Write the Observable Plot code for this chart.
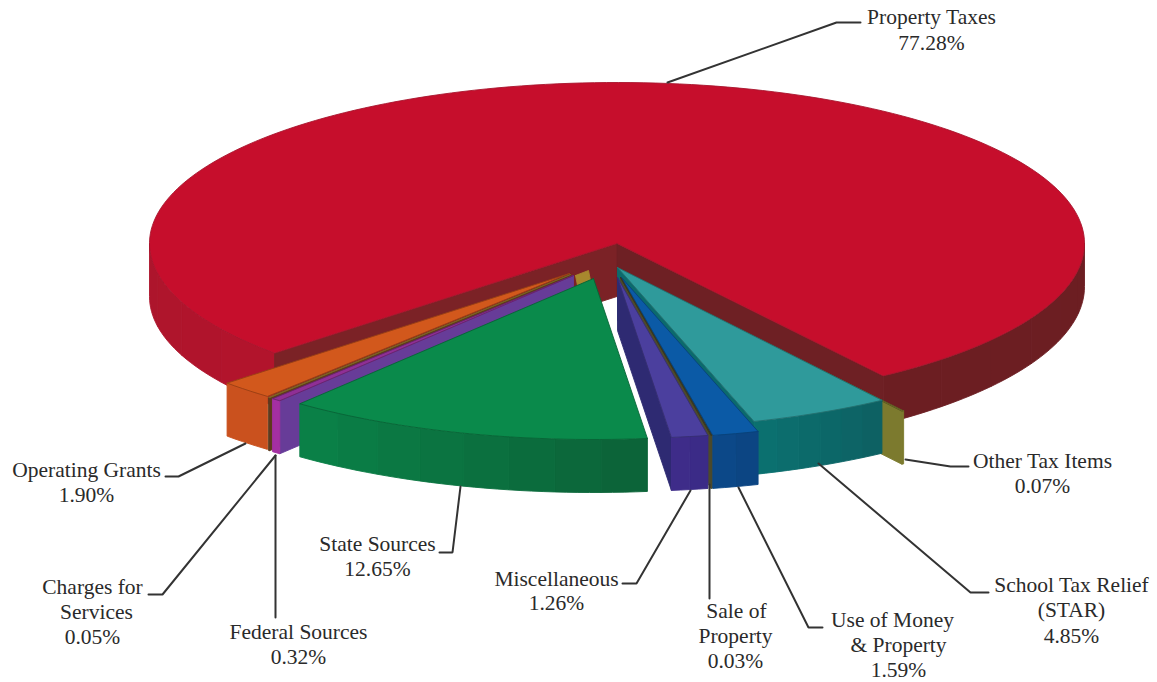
<!DOCTYPE html>
<html><head><meta charset="utf-8">
<script src="https://cdn.jsdelivr.net/npm/d3@7"></script>
<script src="https://cdn.jsdelivr.net/npm/@observablehq/plot@0.6"></script>
<style>html,body{margin:0;padding:0;background:#fff}svg{display:block}</style>
</head><body><div id="chart"></div>
<script>
// ---- data (clockwise, starting at the front-right edge of Property Taxes)
const categories = ["Other Tax Items","School Tax Relief (STAR)","Use of Money & Property","Sale of Property","Miscellaneous","State Sources","Federal Sources","Charges for Services","Operating Grants","Property Taxes"];
const shares = [0.07,4.85,1.59,0.03,1.26,12.65,0.32,0.05,1.90,77.28];
const labelLines = [["Other Tax Items"],["School Tax Relief","(STAR)"],["Use of Money","& Property"],["Sale of","Property"],["Miscellaneous"],["State Sources"],["Federal Sources"],["Charges for","Services"],["Operating Grants"],["Property Taxes"]];

// ---- layout of the 3-D view
const W = 1157, H = 682;
const rx = 467.5, ry = 161, depth = 53, startAngle = 55.3;
const sliceCentres = [[637,278],[617,267],[621,277],[620,277],[617,277],[593,278],[573,275],[570,274],[569,273],[616.5,243]];
const topColours =  ["#7c7a2e","#2f9a9b","#0b5aa6","#4d4a2a","#4b3f9e","#0a8a4b","#8f2f95","#a8882e","#d2581c","#c60e2c"];
const sideColours = [["#7c7a2e","#7c7a2e"],["#0d5f62","#0b7270"],["#0c4380","#0c4a8a"],["#4d4a2a","#4d4a2a"],["#3a2a86","#3f2c8a"],["#0c6238","#0a8248"],["#a42fa2","#a42fa2"],["#5e3a1e","#5e3a1e"],["#c7501e","#cc521e"],["#6c1e22","#6c1e22"]];
const edgeColours = ["#7c7a2e","#0b6a6c","#0c4380","#4d4a2a","#2e2a72",null,"#673c98","#5e3a1e",null,"#6e2024"];
const labelLayout = [
  {x:[1042,1042],y:[461,486],leader:[[968,466],[950,466],[905,459]]},
  {x:[1071,1071,1071],y:[585,610,636],leader:[[988,592],[970,592],[818,463]]},
  {x:[892,898,898],y:[620,645,670],leader:[[822,627],[808,627],[738,487]]},
  {x:[736,735,735],y:[611,636,661],leader:[[709,598],[709,484]]},
  {x:[556,556],y:[579,603],leader:[[622,583],[636,583],[690,490]]},
  {x:[377,377],y:[544,569],leader:[[439,552],[452,552],[460,486]]},
  {x:[298,298],y:[632,657],leader:[[275,617],[275,455]]},
  {x:[92,96,92],y:[587,612,637],leader:[[148,594],[162,594],[275,455]]},
  {x:[86,86],y:[470,495],leader:[[165,476],[178,476],[245,443]]},
  {x:[931,931],y:[17,43],leader:[[860,22],[836,22],[667,82]]}
];

// ---- angles from the values
const rad = Math.PI/180;
let run = startAngle;
const slices = categories.map((name,i)=>{
  const a0 = run; run += shares[i]*3.6;
  return {name,i,a0,a1:run,c:sliceCentres[i]};
});
const rim = (s,a,dy=0)=>[s.c[0]+rx*Math.cos(a*rad), s.c[1]+ry*Math.sin(a*rad)+dy];
const arc = (s,a0,a1,dy=0)=>{const n=Math.max(2,Math.ceil(Math.abs(a1-a0)/1.5));return d3.range(n+1).map(k=>{const a=a0+(a1-a0)*k/n;return rim(s,a,typeof dy==="function"?dy(a):dy);});};

const marks = [];
const poly = (pts,fill,stroke)=>marks.push(Plot.line([...pts,pts[0]],{x:d=>d[0],y:d=>d[1],fill,stroke:stroke||fill,strokeWidth:0.9,strokeLinejoin:"round"}));
const dark = c=>d3.color(c).darker(0.9).formatHex();

function outerWall(s,a0,a1,cA,cB,steps,dp=depth){
  const mix=d3.interpolateRgb(cA,cB);
  for(let k=0;k<steps;k++){
    const p=a0+(a1-a0)*k/steps,q=a0+(a1-a0)*(k+1)/steps;
    const col=d3.color(mix((k+0.5)/steps)).formatHex();
    poly([...arc(s,p,q),...arc(s,p,q,dp).reverse()],col,col);
  }
}
function radialWall(s,a,col){
  const c=s.c,e=rim(s,a);
  poly([c,e,[e[0],e[1]+depth],[c[0],c[1]+depth]],col,col);
}
function topFace(s,stroke){ poly([s.c,...arc(s,s.a0,s.a1)],topColours[s.i],stroke||dark(topColours[s.i])); }

// Property Taxes: the large body with its notch
{
  const s=slices[9];
  outerWall(s,s.a0,180,"#b3142c","#ac152c",4);
  outerWall(s,360,s.a1,sideColours[9][0],sideColours[9][1],6,a=>43+(a-360)/55*5);
  radialWall(s,s.a0,"#7b2226");
  radialWall(s,s.a1,edgeColours[9]);
  topFace(s,"#a8142c");
}
// right-hand group, back to front
[0,1,2,3,4].forEach(i=>{
  const s=slices[i];
  radialWall(s,s.a1,edgeColours[i]);
  outerWall(s,s.a0,s.a1,sideColours[i][0],sideColours[i][1],Math.max(1,Math.round(shares[i]*1.2)));
  topFace(s);
});
// left-hand group
[8,7,6,5].forEach(i=>{
  const s=slices[i];
  if(edgeColours[i]) radialWall(s,s.a0,edgeColours[i]);
  outerWall(s,s.a0,s.a1,sideColours[i][0],sideColours[i][1],Math.max(1,Math.round(shares[i]*0.6)));
  topFace(s);
  if(i===7){ // inner end of the thin Charges slice
    const [cx,cy]=s.c;
    poly([[cx+5,cy+1],[cx+18,cy-4],[cx+20,cy+6],[cx+7,cy+11]],topColours[7],topColours[7]);
  }
});

// leaders
labelLayout.forEach(l=>marks.push(Plot.line(l.leader,{x:d=>d[0],y:d=>d[1],stroke:"#333",strokeWidth:2,strokeLinejoin:"miter"})));

// labels
const textRows = [];
categories.forEach((name,i)=>{
  const lines=[...labelLines[i],shares[i].toFixed(2)+"%"];
  lines.forEach((t,k)=>textRows.push({t,x:labelLayout[i].x[k],y:labelLayout[i].y[k]}));
});
marks.push(Plot.text(textRows,{x:"x",y:"y",text:"t",fontFamily:"Liberation Serif",fontSize:21.5,fill:"#2a2a2a",textAnchor:"middle",lineAnchor:"middle"}));

const chart = Plot.plot({
  width:W,height:H,margin:0,
  x:{domain:[0,W],range:[0,W],axis:null},
  y:{domain:[0,H],range:[0,H],axis:null},
  style:{background:"#fff"},
  marks
});
document.getElementById("chart").append(chart);
</script></body></html>
